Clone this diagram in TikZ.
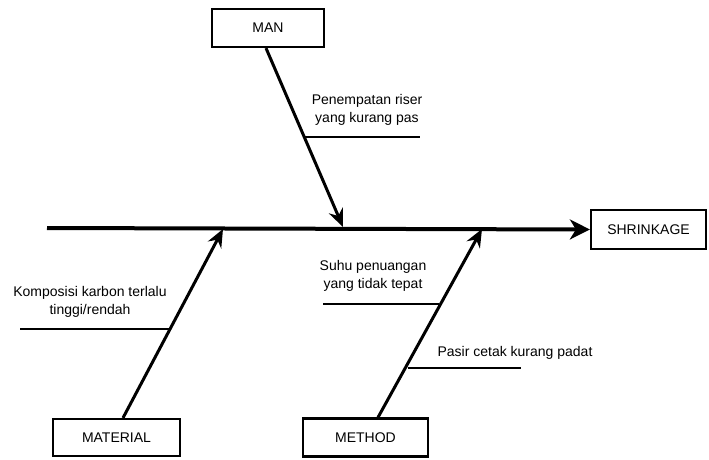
\documentclass[tikz,border=0pt]{standalone}
\usepackage{fontspec}
\setmainfont{Liberation Sans}
\usetikzlibrary{arrows.meta}
\begin{document}
\begin{tikzpicture}[x=1pt,y=-1pt,
  box/.style={draw,line width=2.2pt,minimum width=#1,inner sep=0pt,font=\fontsize{14}{17}\selectfont},
  lbl/.style={align=center,inner sep=0pt,font=\fontsize{14}{18}\selectfont},
  bone/.style={line width=3pt,-{Stealth[length=18pt,width=15pt,inset=6pt]}},
  spine/.style={line width=4pt,-{Stealth[length=20pt,width=20pt,inset=6pt]}},
  twig/.style={line width=1.6pt}]
\useasboundingbox (0,0) rectangle (709,459);
% boxes
\node[box=112pt,minimum height=38pt] (man) at (268,28) {MAN};
\node[box=115pt,minimum height=39pt] (shrink) at (648.5,229.5) {SHRINKAGE};
\node[box=127pt,minimum height=37pt] (material) at (116.5,437.5) {MATERIAL};
\node[box=125pt,minimum height=38pt] (method) at (365.5,437.5) {METHOD};
% spine
\coordinate (tail) at (47,228);
\draw[spine] (tail) -- (shrink.west);
% bone tips
\coordinate (mantip) at (343,227);
\coordinate (mattip) at (223,229);
\coordinate (methtip) at (482,229);
\draw[bone] (man.south -| 266,0) -- (mantip);
\draw[bone] (material.north -| 123,0) -- (mattip);
\draw[bone] (method.north -| 378,0) -- (methtip);
% twigs
\coordinate (t1a) at (305,137); \coordinate (t1b) at (420,137);
\coordinate (t2a) at (20,329);  \coordinate (t2b) at (169,329);
\coordinate (t3a) at (323,304); \coordinate (t3b) at (439,304);
\coordinate (t4a) at (408,368); \coordinate (t4b) at (521,368);
\draw[twig] (t1a) -- (t1b);
\draw[twig] (t2a) -- (t2b);
\draw[twig] (t3a) -- (t3b);
\draw[twig] (t4a) -- (t4b);
% labels
\node[lbl] (l1) at (367,110) {Penempatan riser\\yang kurang pas};
\node[lbl] (l2) at (90,302) {Komposisi karbon terlalu\\tinggi/rendah};
\node[lbl] (l3) at (373,276) {Suhu penuangan\\yang tidak tepat};
\node[lbl] (l4) at (515,353) {Pasir cetak kurang padat};
\end{tikzpicture}
\end{document}
